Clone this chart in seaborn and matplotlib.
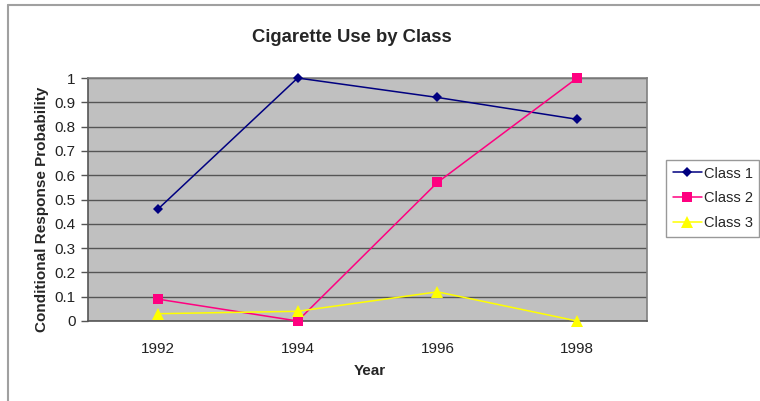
import matplotlib
matplotlib.use("Agg")
import matplotlib.pyplot as plt
from matplotlib.lines import Line2D
from matplotlib.ticker import FixedLocator
import seaborn as sns
import pandas as pd

years = ["1992", "1994", "1996", "1998"]
class1 = [0.46, 1.00, 0.92, 0.83]
class2 = [0.09, 0.00, 0.57, 1.00]
class3 = [0.03, 0.04, 0.12, 0.00]
series_names = ["Class 1", "Class 2", "Class 3"]
yticks = [0, 0.1, 0.2, 0.3, 0.4, 0.5, 0.6, 0.7, 0.8, 0.9, 1]

df = pd.DataFrame({
    "Year": years * 3,
    "Value": class1 + class2 + class3,
    "Class": [series_names[0]] * 4 + [series_names[1]] * 4 + [series_names[2]] * 4,
})

sns.set_theme(style="white")
plt.rcParams["font.family"] = ["Liberation Sans", "DejaVu Sans"]

fig = plt.figure(figsize=(7.6, 4.01), dpi=100)
ax = fig.add_axes([88 / 760, 1 - 321 / 401, (647 - 88) / 760, (321 - 78) / 401])

palette = {"Class 1": "#000080", "Class 2": "#FF0080", "Class 3": "#FFFF00"}
markers = {"Class 1": "D", "Class 2": "s", "Class 3": "^"}
msize = {"Class 1": 5.5, "Class 2": 7.5, "Class 3": 8}
sns.lineplot(data=df, x="Year", y="Value", hue="Class", style="Class",
             palette=palette, markers=markers, dashes=False, linewidth=1.1,
             markersize=6, markeredgewidth=0, ax=ax, legend=False, zorder=3)
for line, name in zip(ax.lines, series_names):
    line.set_markersize(msize[name])
    line.set_clip_on(False)

ax.set_facecolor("#C0C0C0")
ax.set_xlim(-0.5, 3.5)
ax.set_ylim(0, 1)
ax.set_yticks(yticks)
ax.set_yticklabels([f"{v:g}" for v in yticks])
ax.grid(axis="y", color="#555555", linewidth=1.0)
ax.set_axisbelow(True)
ax.xaxis.set_minor_locator(FixedLocator([-0.5, 0.5, 1.5, 2.5, 3.5]))
ax.tick_params(axis="x", which="major", length=0, labelsize=11, pad=15, colors="#222222")
ax.tick_params(axis="x", which="minor", length=5, width=1, color="#555555")
ax.tick_params(axis="y", which="major", length=5, width=1, color="#555555", labelsize=11, left=True, colors="#222222", pad=4)
for s in ["top", "right"]:
    ax.spines[s].set_color("#808080")
    ax.spines[s].set_linewidth(1.2)
for s in ["left", "bottom"]:
    ax.spines[s].set_color("#555555")
    ax.spines[s].set_linewidth(1.2)

ax.set_xlabel("Year", fontsize=11, fontweight="bold")
ax.xaxis.set_label_coords((370 - 88) / 559, (321 - 371) / 243)
ax.xaxis.label.set_va("center")
ax.set_ylabel("Conditional Response Probability", fontsize=11, fontweight="bold")
ax.yaxis.set_label_coords((42 - 88) / 559, (321 - 209.5) / 243)
ax.yaxis.label.set_va("center")
fig.text(352 / 760, 1 - 37 / 401, "Cigarette Use by Class", fontsize=13.3, fontweight="bold",
         ha="center", va="center")

handles = [Line2D([0], [0], color=palette[n], marker=markers[n], markersize=msize[n],
                  markeredgewidth=0, linewidth=1.1) for n in series_names]
leg = fig.legend(handles, series_names, loc="upper left",
                 bbox_to_anchor=(666 / 760, 1 - 160 / 401), fontsize=10.5,
                 frameon=True, fancybox=False, edgecolor="#808080",
                 handlelength=2.0, handletextpad=0.15, borderpad=0.45, labelspacing=0.75,
                 borderaxespad=0)
leg.get_frame().set_linewidth(1.0)

fig.add_artist(Line2D([8 / 760, 8 / 760], [0, 1 - 5 / 401], color="#A0A0A0", linewidth=1.5))
fig.add_artist(Line2D([8 / 760, 1], [1 - 5 / 401, 1 - 5 / 401], color="#A0A0A0", linewidth=1.5))

fig.savefig("out.png", dpi=100)
